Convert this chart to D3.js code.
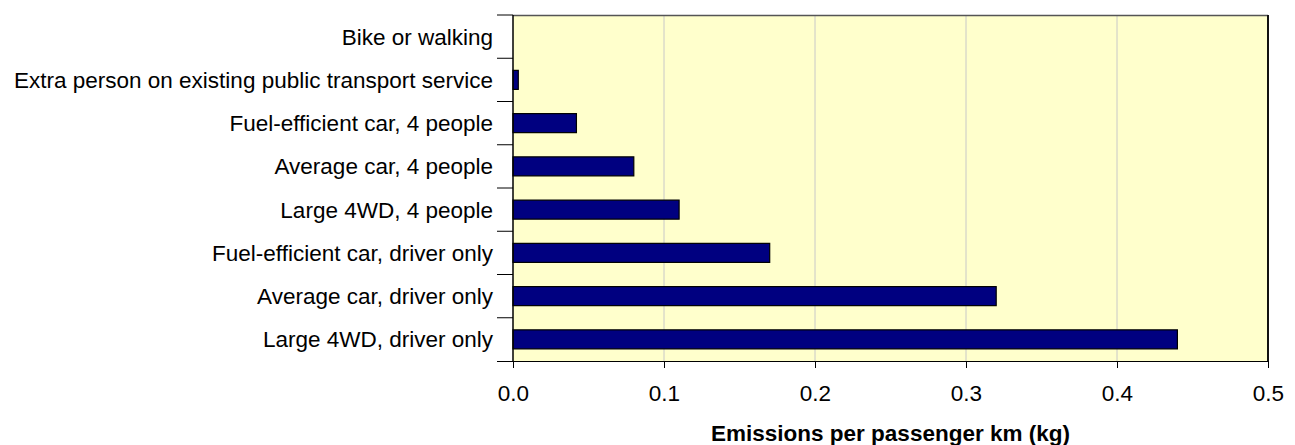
<!DOCTYPE html>
<html><head><meta charset="utf-8">
<script src="https://cdn.jsdelivr.net/npm/d3@7"></script>
<style>body{margin:0;background:#fff;} text{font-family:"Liberation Sans",Arial,sans-serif;}</style>
</head><body>
<svg id="c" width="1295" height="445"></svg>
<script>
const categories = ["Bike or walking","Extra person on existing public transport service","Fuel-efficient car, 4 people","Average car, 4 people","Large 4WD, 4 people","Fuel-efficient car, driver only","Average car, driver only","Large 4WD, driver only"];
const values = [0, 0.0035, 0.042, 0.08, 0.11, 0.17, 0.32, 0.44];
const xTicks = [0, 0.1, 0.2, 0.3, 0.4, 0.5];
const xLabel = "Emissions per passenger km (kg)";

const FS = 22.5;
const svg = d3.select("#c");
const L = 513, R = 1268, T = 15, B = 361;
const x = d3.scaleLinear().domain([0, 0.5]).range([L, R]);
const y = d3.scaleBand().domain(categories).range([T, B]).paddingInner(0.56).paddingOuter(0.28);
const band = (B - T) / categories.length;

svg.append("rect").attr("x", L).attr("y", T).attr("width", R - L).attr("height", B - T).attr("fill", "#FFFFCC");
svg.append("g").selectAll("line").data(xTicks.slice(1, -1)).join("line")
  .attr("x1", d => x(d)).attr("x2", d => x(d)).attr("y1", T).attr("y2", B)
  .attr("stroke", "#c8c8c8").attr("stroke-width", 1);
// border top/right
svg.append("line").attr("x1", L).attr("x2", R).attr("y1", T + 0.5).attr("y2", T + 0.5).attr("stroke", "#555").attr("stroke-width", 1.5);
svg.append("line").attr("x1", R).attr("x2", R).attr("y1", T).attr("y2", B).attr("stroke", "#111").attr("stroke-width", 2);

svg.append("g").selectAll("rect").data(values).join("rect")
  .attr("x", x(0)).attr("y", (d, i) => y(categories[i]))
  .attr("width", d => x(d) - x(0)).attr("height", y.bandwidth())
  .attr("fill", "#000080").attr("stroke", "#000").attr("stroke-width", 1.2);

// x axis
const xa = svg.append("g").attr("transform", `translate(0,${B})`)
  .call(d3.axisBottom(x).tickValues(xTicks).tickFormat(d3.format(".1f")).tickSize(7).tickPadding(17));
xa.select(".domain").attr("stroke", "#000").attr("stroke-width", 1.2).attr("d", `M${L - 16},0.5H${R}`);
xa.selectAll(".tick line").attr("stroke", "#000");
xa.selectAll("text").attr("font-size", FS).attr("fill", "#000").style("font-family", "Liberation Sans, Arial, sans-serif");

// y axis line and boundary ticks
svg.append("line").attr("x1", L).attr("x2", L).attr("y1", T).attr("y2", B).attr("stroke", "#000").attr("stroke-width", 1.5);
svg.append("g").selectAll("line").data(d3.range(categories.length)).join("line")
  .attr("x1", L - 16).attr("x2", L).attr("y1", i => T + i * band).attr("y2", i => T + i * band)
  .attr("stroke", "#000").attr("stroke-width", 1);
svg.append("g").selectAll("text").data(categories).join("text")
  .attr("x", 493).attr("y", d => y(d) + y.bandwidth() / 2).attr("dy", "0.36em")
  .attr("text-anchor", "end").attr("font-size", FS).attr("fill", "#000").text(d => d);

svg.append("text").attr("x", (L + R) / 2).attr("y", 441).attr("text-anchor", "middle")
  .attr("font-size", FS).attr("font-weight", "bold").attr("fill", "#000").text(xLabel);
</script>
</body></html>
